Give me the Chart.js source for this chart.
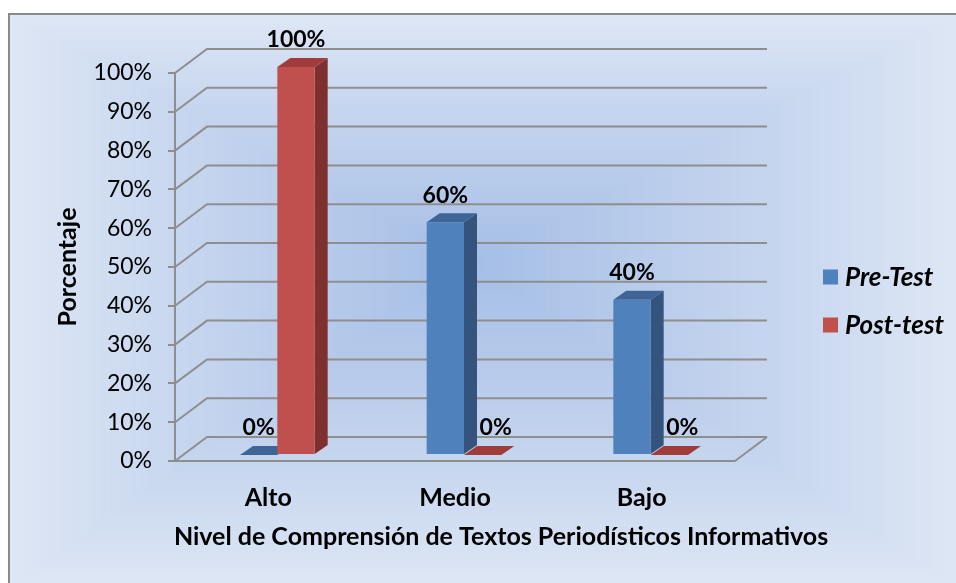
<!DOCTYPE html>
<html>
<head>
<meta charset="utf-8">
<script src="https://cdn.jsdelivr.net/npm/chart.js@4.4.0/dist/chart.umd.min.js"></script>
<style>
  html, body { margin: 0; padding: 0; background: #fff; }
  canvas { display: block; }
</style>
</head>
<body>
<canvas id="chart" width="956" height="583" style="width:956px;height:583px"></canvas>
<script>
const categories = ['Alto', 'Medio', 'Bajo']
const seriesNames = ['Pre-Test', 'Post-test']
const preTest = [0, 60, 40]
const postTest = [100, 0, 0]
const yMin = 0
const yMax = 100
const yStep = 10
const xTitle = 'Nivel de Comprensión de Textos Periodísticos Informativos'
const yTitle = 'Porcentaje'

// colours: front, side, top
const blue = ['#4f81bd', '#34547e', '#3e6595']
const red = ['#c0504d', '#7e302e', '#a03d3a']

const FONT = 'Lato'
const GRID = '#8e8e8e'
const WALL = { dx: 32, dy: -24 }   // back wall offset from front plane
const BAR = { dx: 9, dy: -6 }      // bar front plane offset
const DEPTH = { dx: 13, dy: -9 }   // bar depth

function poly(ctx, pts, fill) {
    ctx.beginPath()
    ctx.moveTo(pts[0][0], pts[0][1])
    for (let i = 1; i < pts.length; i++) ctx.lineTo(pts[i][0], pts[i][1])
    ctx.closePath()
    ctx.fillStyle = fill
    ctx.fill()
}

function lerp(a, b, t) { return Math.round(a + (b - a) * t) }

const excel3d = {
    id: 'excel3d',
    beforeDraw(chart) {
        const ctx = chart.ctx
        const W = chart.width, H = chart.height
        ctx.save()
        ctx.fillStyle = '#fff'
        ctx.fillRect(0, 0, W, H)
        // rectangular "from centre" gradient like Excel
        const x0 = 8, y0 = 13, x1 = W + 4, y1 = H + 6
        const cx = 470, cy = 262
        const c0 = [223, 231, 245], c1 = [165, 190, 230]
        const steps = 90
        for (let i = 0; i <= steps; i++) {
            const t = i / steps
            const e = Math.pow(t, 0.9)
            ctx.fillStyle = 'rgb(' + lerp(c0[0], c1[0], e) + ',' + lerp(c0[1], c1[1], e) + ',' + lerp(c0[2], c1[2], e) + ')'
            const l = x0 + (cx - x0) * t, r = x1 - (x1 - cx) * t
            const tp = y0 + (cy - y0) * t, b = y1 - (y1 - cy) * t
            ctx.fillRect(l, tp, r - l, b - tp)
        }
        ctx.strokeStyle = '#8a8a8a'
        ctx.lineWidth = 2
        ctx.beginPath()
        ctx.moveTo(9, H)
        ctx.lineTo(9, 14)
        ctx.lineTo(W, 14)
        ctx.stroke()
        ctx.restore()
    },
    beforeDatasetsDraw(chart) {
        const ctx = chart.ctx
        const ys = chart.scales.y
        const area = chart.chartArea
        ctx.save()
        ctx.strokeStyle = GRID
        ctx.lineWidth = 2
        ctx.beginPath()
        ys.ticks.forEach(t => {
            const py = ys.getPixelForValue(t.value)
            ctx.moveTo(area.left, py)
            ctx.lineTo(area.left + WALL.dx, py + WALL.dy)
            ctx.lineTo(area.right + WALL.dx, py + WALL.dy)
        })
        // floor
        const fy = ys.getPixelForValue(yMin)
        ctx.moveTo(area.left, fy)
        ctx.lineTo(area.right, fy)
        ctx.lineTo(area.right + WALL.dx, fy + WALL.dy)
        ctx.stroke()
        ctx.restore()

        // sides and tops of the bars, fronts come from chart.js
        ctx.save()
        ctx.translate(BAR.dx, BAR.dy)
        chart.data.datasets.forEach((ds, i) => {
            const meta = chart.getDatasetMeta(i)
            meta.data.forEach(el => {
                const { x, y, base, width } = el.getProps(['x', 'y', 'base', 'width'], true)
                const l = x - width / 2, r = x + width / 2
                poly(ctx, [[r, y], [r + DEPTH.dx, y + DEPTH.dy], [r + DEPTH.dx, base + DEPTH.dy], [r, base]], ds.sideColor)
                poly(ctx, [[l, y], [r, y], [r + DEPTH.dx, y + DEPTH.dy], [l + DEPTH.dx, y + DEPTH.dy]], ds.topColor)
            })
        })
    },
    afterDatasetsDraw(chart) {
        const ctx = chart.ctx
        ctx.restore()
        ctx.save()
        ctx.fillStyle = '#000'
        ctx.font = 'bold 23px ' + FONT
        ctx.textAlign = 'center'
        ctx.textBaseline = 'middle'
        chart.data.datasets.forEach((ds, i) => {
            const meta = chart.getDatasetMeta(i)
            meta.data.forEach((el, j) => {
                const v = ds.data[j]
                let lx = el.x + BAR.dx
                if (v === 0 && i > 0) lx += DEPTH.dx // pushed clear of the neighbour
                const ly = el.y + BAR.dy + DEPTH.dy - 18
                ctx.fillText(v + '%', lx, ly)
            })
        })
        ctx.restore()
    },
    afterDraw(chart) {
        const ctx = chart.ctx
        ctx.save()
        ctx.fillStyle = '#000'
        ctx.font = 'bold 25px ' + FONT
        ctx.textAlign = 'center'
        ctx.textBaseline = 'middle'
        ctx.fillText(xTitle, 501, 537)

        // legend
        ctx.font = 'italic bold 26px ' + FONT
        ctx.textAlign = 'left'
        chart.data.datasets.forEach((ds, i) => {
            const cy = 277 + i * 48
            ctx.fillStyle = ds.backgroundColor
            ctx.fillRect(823, cy - 7.5, 15, 15)
            ctx.fillStyle = '#000'
            ctx.fillText(ds.label, 845, cy + 1)
        })
        ctx.restore()
    }
}

const config = {
    type: 'bar',
    data: {
        labels: categories,
        datasets: [
            { label: seriesNames[0], data: preTest, backgroundColor: blue[0], sideColor: blue[1], topColor: blue[2] },
            { label: seriesNames[1], data: postTest, backgroundColor: red[0], sideColor: red[1], topColor: red[2] },
        ],
    },
    options: {
        responsive: false,
        animation: false,
        devicePixelRatio: 1,
        layout: {
            padding: { left: 0, top: 73, right: 221, bottom: 0 },
        },
        datasets: {
            bar: { categoryPercentage: 0.4, barPercentage: 1, clip: false },
        },
        plugins: {
            legend: { display: false },
            tooltip: { enabled: false },
        },
        scales: {
            x: {
                grid: { display: false },
                border: { display: false },
                ticks: {
                    color: '#000',
                    padding: 14,
                    font: { family: FONT, size: 25, weight: 'bold' },
                },
                afterFit(s) { s.height = 122 },
            },
            y: {
                min: yMin,
                max: yMax,
                ticks: {
                    stepSize: yStep,
                    color: '#000',
                    padding: 16,
                    font: { family: FONT, size: 23 },
                    callback: v => v + '%',
                },
                grid: { drawOnChartArea: false, drawTicks: true, tickLength: 7, color: GRID, lineWidth: 2 },
                border: { display: true, color: GRID, width: 2 },
                title: {
                    display: true,
                    text: yTitle,
                    color: '#000',
                    font: { family: FONT, size: 25, weight: 'bold' },
                    padding: { top: 53, bottom: 0 },
                },
                afterFit(s) { s.width = 175 },
            },
        },
    },
    plugins: [excel3d],
}

new Chart(document.getElementById('chart'), config)
</script>
</body>
</html>
